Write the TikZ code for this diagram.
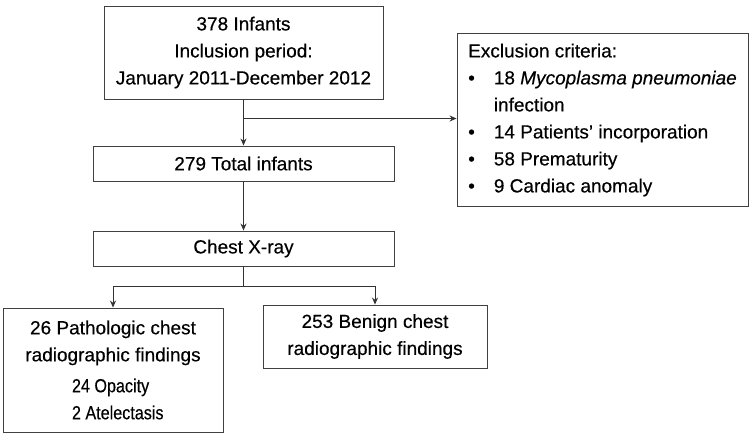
\documentclass[tikz,border=0pt]{standalone}
\usepackage{fontspec}
\setmainfont[FakeBold=0.4]{Liberation Sans}
\usepackage{graphicx}
\usetikzlibrary{arrows.meta}

\begin{document}
\begin{tikzpicture}[x=1pt,y=-1pt,
  box/.style={draw=black!75,line width=0.9pt,inner sep=0pt,align=center,
    font=\fontsize{19}{27}\selectfont},
  link/.style={draw=black!80,line width=0.9pt},
  arr/.style={link,-{Stealth[length=7pt,width=6pt]}}]
\useasboundingbox (0,0) rectangle (753,437);
% boxes
\node[box,minimum width=279,minimum height=93] (inc) at (243.5,52.5)
  {378 Infants\\Inclusion period:\\January 2011-December 2012};
\node[box,minimum width=301,minimum height=35] (tot) at (243.5,163.5) {279 Total infants};
\node[box,minimum width=291,minimum height=173] (excl) at (602.5,119.5)
  {\begin{tabular}{@{}l@{\hspace{19pt}}l@{}}
   \multicolumn{2}{@{}l}{Exclusion criteria:}\\
   \textbullet & 18 \textit{Mycoplasma pneumoniae}\\
               & infection\\
   \textbullet & 14 Patients' incorporation\\
   \textbullet & 58 Prematurity\\
   \textbullet & 9 Cardiac anomaly
   \end{tabular}};
\node[box,minimum width=301,minimum height=35] (xray) at (243.5,248.5) {Chest X-ray};
\node[box,minimum width=220,minimum height=124] (path) at (113,370)
  {26 Pathologic chest\\radiographic findings\\[4pt]
   \makebox[82pt][l]{\scalebox{0.85}[1]{24 Opacity}}\\
   \makebox[82pt][l]{\scalebox{0.85}[1]{2 Atelectasis}}};
\node[box,minimum width=224,minimum height=63] (ben) at (375,336.5)
  {253 Benign chest\\radiographic findings};
% connectors
\coordinate (brk) at (243.5,118.5);
\coordinate (fork) at (243.5,286);
\draw[arr] (inc) -- (tot);
\draw[arr] (brk) -- (brk -| excl.west);
\draw[arr] (tot) -- (xray);
\draw[link] (xray) -- (fork);
\draw[arr] (fork) -| (path);
\draw[arr] (fork) -| (ben);
\end{tikzpicture}
\end{document}
